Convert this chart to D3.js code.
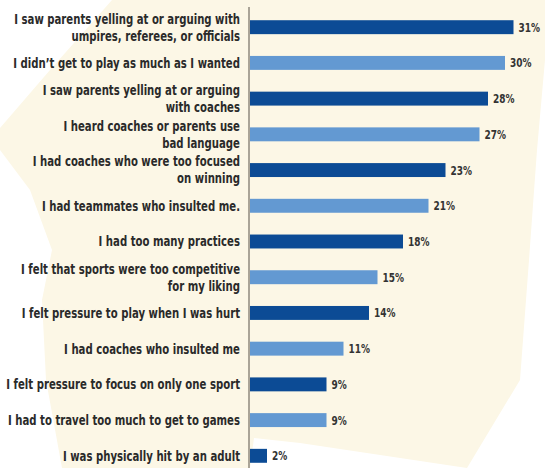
<!DOCTYPE html>
<html>
<head>
<meta charset="utf-8">
<script src="https://cdn.jsdelivr.net/npm/d3@7"></script>
<style>
  body { margin: 0; background: #ffffff; }
  svg { display: block; }
  text { font-family: "DejaVu Sans Condensed", "DejaVu Sans", sans-serif; font-weight: bold; }
</style>
</head>
<body>
<div id="chart"></div>
<script>
// categories (one entry per bar, lines split where the label wraps)
const categories = [
    ["I saw parents yelling at or arguing with", "umpires, referees, or officials"],
    ["I didn\u2019t get to play as much as I wanted"],
    ["I saw parents yelling at or arguing", "with coaches"],
    ["I heard coaches or parents use", "bad language"],
    ["I had coaches who were too focused", "on winning"],
    ["I had teammates who insulted me."],
    ["I had too many practices"],
    ["I felt that sports were too competitive", "for my liking"],
    ["I felt pressure to play when I was hurt"],
    ["I had coaches who insulted me"],
    ["I felt pressure to focus on only one sport"],
    ["I had to travel too much to get to games"],
    ["I was physically hit by an adult"]
];

// percent of respondents
const values = [31, 30, 28, 27, 23, 21, 18, 15, 14, 11, 9, 9, 2];

const width = 545;
const height = 468;
const margin = { top: 9.5, right: 31.5, bottom: -5.5, left: 250 };

const svg = d3.select("#chart")
    .append("svg")
    .attr("width", width)
    .attr("height", height);

// cream paper shape behind the chart
svg.append("path")
    .attr("d", "M112,0 L545,0 L545,60 L537,150 L529,260 L520,380 L467,468 L300,443 L254,438 L250,468 L62,468 L46,380 L42,300 L52,250 L30,190 L0,150 L0,128 L50,70 Z")
    .attr("fill", "#fcf7e6");

const x = d3.scaleLinear()
    .domain([0, 31])
    .range([margin.left, width - margin.right]);

const y = d3.scaleBand()
    .domain(d3.range(values.length))
    .range([margin.top, height - margin.bottom])
    .paddingInner(0.61)
    .paddingOuter(0.3);

const dark = "#0c4b95";
const light = "#6399d2";

// bars
svg.selectAll(".bar")
    .data(values)
    .enter()
    .append("rect")
    .attr("class", "bar")
    .attr("x", x(0))
    .attr("y", (d, i) => y(i))
    .attr("width", d => x(d) - x(0))
    .attr("height", y.bandwidth())
    .attr("fill", (d, i) => i % 2 === 0 ? dark : light);

// the printed font is narrow, so squeeze text horizontally
const squeeze = 0.8;

// value labels
svg.selectAll(".value")
    .data(values)
    .enter()
    .append("text")
    .attr("class", "value")
    .attr("transform", (d, i) => `translate(${x(d) + 5},${y(i) + y.bandwidth() / 2}) scale(${squeeze},1)`)
    .attr("dy", "0.36em")
    .attr("font-size", "12.5px")
    .attr("fill", "#333333")
    .text(d => d + "%");

// category labels, right aligned against the axis
const lineH = 17;
const labelG = svg.append("g")
    .attr("transform", "translate(240,0)");

const labels = labelG.selectAll(".cat")
    .data(categories)
    .enter()
    .append("text")
    .attr("class", "cat")
    .attr("text-anchor", "end")
    .attr("font-size", "13.5px")
    .attr("fill", "#2a2a2a");

labels.each(function(lines, i) {
    const cy = y(i) + y.bandwidth() / 2;
    const top = cy - (lines.length - 1) * lineH / 2;
    d3.select(this).selectAll("tspan")
        .data(lines)
        .enter()
        .append("tspan")
        .attr("x", 0)
        .attr("y", (d, j) => top + j * lineH)
        .attr("dy", "0.36em")
        .text(d => d);
});

// fit the longest line to the width it has in print (about 227px)
const longest = labels.filter((d, i) => i === 1).node().getComputedTextLength();
labelG.attr("transform", `translate(240,0) scale(${227 / longest},1)`);

// vertical axis line
svg.append("line")
    .attr("x1", x(0) - 1)
    .attr("x2", x(0) - 1)
    .attr("y1", 7)
    .attr("y2", height)
    .attr("stroke", "#8f887c")
    .attr("stroke-width", 1.5);
</script>
</body>
</html>
